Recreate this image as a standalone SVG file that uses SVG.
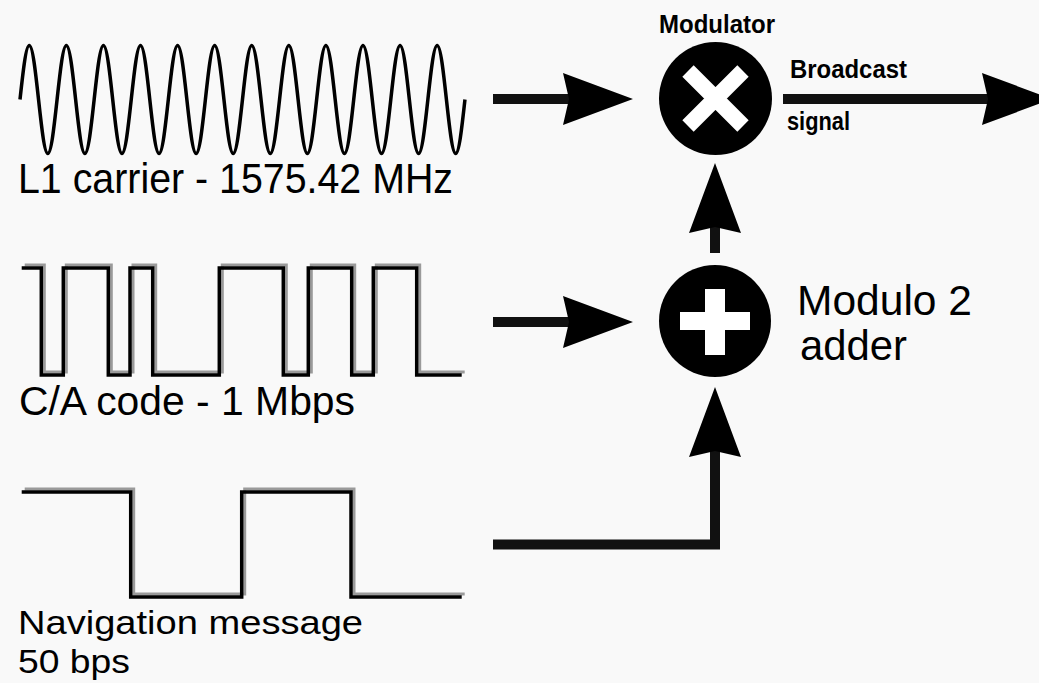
<svg xmlns="http://www.w3.org/2000/svg" xmlns:xlink="http://www.w3.org/1999/xlink" width="1039" height="683" viewBox="0 0 1039 683">
<style>
.wave{fill:none;stroke:#000;stroke-width:3.5;stroke-linejoin:miter}
.shadow{fill:none;stroke:#9a9a9a;stroke-width:3}
.lbl{font-family:"Liberation Sans",Arial,sans-serif;fill:#000}
.small{font-family:"Liberation Sans",Arial,sans-serif;font-weight:bold;fill:#000}
.conn{fill:none;stroke:#111;stroke-width:10;stroke-linejoin:miter}
.disc{fill:#000}
.sym{stroke:#fff;stroke-width:16;fill:none}
</style>
<defs>
<marker id="ah" markerUnits="userSpaceOnUse" markerWidth="70" markerHeight="52" viewBox="0 0 70 52" refX="6" refY="26" orient="auto">
<path d="M0,0 L70,26 L0,52 L6,26 Z" fill="#000"/>
</marker>
</defs>
<rect width="1039" height="683" fill="#f9f9f9"/>

<g id="carrier">
<path class="wave" stroke-width="4.5" d="M20,99.5 c3.02,-27.66 5.92,-54 9.27,-54 c3.35,0 6.25,26.34 9.27,54 c3.02,27.66 5.92,54 9.27,54 c3.35,0 6.25,-26.34 9.27,-54 c3.02,-27.66 5.92,-54 9.27,-54 c3.35,0 6.25,26.34 9.27,54 c3.02,27.66 5.92,54 9.27,54 c3.35,0 6.25,-26.34 9.27,-54 c3.02,-27.66 5.92,-54 9.27,-54 c3.35,0 6.25,26.34 9.27,54 c3.02,27.66 5.92,54 9.27,54 c3.35,0 6.25,-26.34 9.27,-54 c3.02,-27.66 5.92,-54 9.27,-54 c3.35,0 6.25,26.34 9.27,54 c3.02,27.66 5.92,54 9.27,54 c3.35,0 6.25,-26.34 9.27,-54 c3.02,-27.66 5.92,-54 9.27,-54 c3.35,0 6.25,26.34 9.27,54 c3.02,27.66 5.92,54 9.27,54 c3.35,0 6.25,-26.34 9.27,-54 c3.02,-27.66 5.92,-54 9.27,-54 c3.35,0 6.25,26.34 9.27,54 c3.02,27.66 5.92,54 9.27,54 c3.35,0 6.25,-26.34 9.27,-54 c3.02,-27.66 5.92,-54 9.27,-54 c3.35,0 6.25,26.34 9.27,54 c3.02,27.66 5.92,54 9.27,54 c3.35,0 6.25,-26.34 9.27,-54 c3.02,-27.66 5.92,-54 9.27,-54 c3.35,0 6.25,26.34 9.27,54 c3.02,27.66 5.92,54 9.27,54 c3.35,0 6.25,-26.34 9.27,-54 c3.02,-27.66 5.92,-54 9.27,-54 c3.35,0 6.25,26.34 9.27,54 c3.02,27.66 5.92,54 9.27,54 c3.35,0 6.25,-26.34 9.27,-54 c3.02,-27.66 5.92,-54 9.27,-54 c3.35,0 6.25,26.34 9.27,54 c3.02,27.66 5.92,54 9.27,54 c3.35,0 6.25,-26.34 9.27,-54 c3.02,-27.66 5.92,-54 9.27,-54 c3.35,0 6.25,26.34 9.27,54 c3.02,27.66 5.92,54 9.27,54 c3.35,0 6.25,-26.34 9.27,-54 c3.02,-27.66 5.92,-54 9.27,-54 c3.35,0 6.25,26.34 9.27,54 c3.02,27.66 5.92,54 9.27,54 c3.35,0 6.25,-26.34 9.27,-54"/>
<text class="lbl" x="18" y="193" font-size="43" textLength="435" lengthAdjust="spacingAndGlyphs">L1 carrier - 1575.42 MHz</text>
</g>

<g id="ca-code">
<path class="shadow" transform="translate(3,-3)" d="M21.7,268 H41.3 V375 H63.3 V268 H108.3 V375 H130 V268 H152.7 V375 H219.3 V268 H283.3 V375 H308.3 V268 H351.7 V375 H373.3 V268 H416.7 V375 H461.7"/>
<path class="wave" d="M21.7,268 H41.3 V375 H63.3 V268 H108.3 V375 H130 V268 H152.7 V375 H219.3 V268 H283.3 V375 H308.3 V268 H351.7 V375 H373.3 V268 H416.7 V375 H461.7"/>
<text class="lbl" x="19" y="415" font-size="40" textLength="336" lengthAdjust="spacingAndGlyphs">C/A code - 1 Mbps</text>
</g>

<g id="nav-msg">
<path class="shadow" transform="translate(3,-3)" d="M21.7,492 H130.7 V597 H241.7 V492 H351 V597 H461.7"/>
<path class="wave" d="M21.7,492 H130.7 V597 H241.7 V492 H351 V597 H461.7"/>
<text class="lbl" x="18" y="634" font-size="34" textLength="345" lengthAdjust="spacingAndGlyphs">Navigation message</text>
<text class="lbl" x="18" y="673" font-size="34" textLength="112" lengthAdjust="spacingAndGlyphs">50 bps</text>
</g>

<g id="modulator">
<text class="small" x="659" y="33" font-size="25" textLength="116" lengthAdjust="spacingAndGlyphs">Modulator</text>
<circle class="disc" cx="715.5" cy="98.5" r="56.5"/>
<path class="sym" d="M688,71 L743,126 M743,71 L688,126"/>
</g>

<g id="adder">
<circle class="disc" cx="715" cy="321" r="56"/>
<rect x="680" y="312" width="70" height="18" fill="#fff"/>
<rect x="705" y="289" width="20" height="66" fill="#fff"/>
<text class="lbl" x="797" y="315" font-size="42" textLength="175" lengthAdjust="spacingAndGlyphs">Modulo 2</text>
<text class="lbl" x="800" y="360" font-size="42" textLength="107" lengthAdjust="spacingAndGlyphs">adder</text>
</g>

<g id="broadcast-label">
<text class="small" x="790" y="78" font-size="26" textLength="117" lengthAdjust="spacingAndGlyphs">Broadcast</text>
<text class="small" x="787" y="130" font-size="26" textLength="63" lengthAdjust="spacingAndGlyphs">signal</text>
</g>

<g id="connectors">
<path class="conn" d="M493,99 H569" marker-end="url(#ah)"/>
<path class="conn" d="M493,322 H569" marker-end="url(#ah)"/>
<path class="conn" d="M783,99 H988" marker-end="url(#ah)"/>
<path class="conn" d="M715,253 V227" marker-end="url(#ah)"/>
<path class="conn" stroke-width="11" d="M493,544.5 H715 V451" marker-end="url(#ah)"/>
</g>
</svg>
